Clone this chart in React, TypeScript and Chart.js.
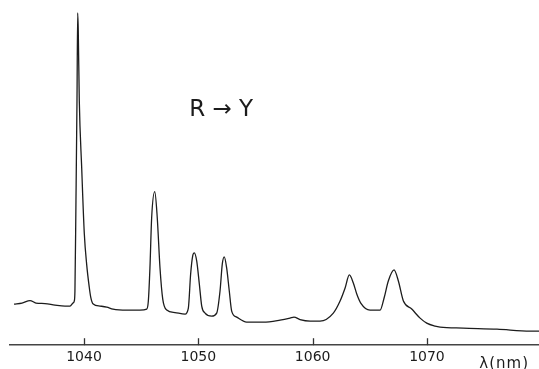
import React, { useEffect, useRef } from "react";
import { Chart, registerables } from "chart.js";

Chart.register(...registerables);

// Wavelength (nm) of each traced point of the spectrum
const wavelengths: number[] = [
  1033.88, 1034.58, 1035.28, 1035.8, 1036.59, 1037.46, 1038.34, 1038.78, 1039.04, 1039.15,
  1039.21, 1039.3, 1039.39, 1039.45, 1039.5, 1039.59, 1039.8, 1040.03, 1040.24, 1040.46,
  1040.59, 1040.81, 1041.4, 1041.99, 1042.54, 1043.74, 1044.9, 1045.49, 1045.63, 1045.77,
  1045.92, 1046.19, 1046.41, 1046.65, 1046.89, 1047.24, 1047.96, 1048.84, 1049.13, 1049.33,
  1049.51, 1049.65, 1049.86, 1050.09, 1050.3, 1050.59, 1051.17, 1051.61, 1051.9, 1052.1,
  1052.27, 1052.48, 1052.71, 1052.92, 1053.36, 1054.23, 1055.69, 1057.15, 1058.02, 1058.37,
  1058.9, 1059.78, 1060.65, 1061.81, 1062.4, 1062.84, 1063.21, 1063.56, 1063.86, 1064.21,
  1065.02, 1065.9, 1066.25, 1066.62, 1067.12, 1067.5, 1067.94, 1068.67, 1069.4, 1069.98,
  1070.71, 1071.15, 1073.16, 1076.13, 1079.02, 1079.81,
];

// Emission intensity (arbitrary units) at each wavelength
const intensities: number[] = [
  41, 42, 44.5, 42, 41.5, 40, 39, 39, 42, 44,
  54, 144, 244, 331, 314, 244, 177, 111, 80, 58,
  48, 41, 39, 38, 36, 35, 35, 36, 44, 77,
  127, 153, 127, 77, 46, 35, 32.5, 31, 37, 71,
  89, 92, 84, 61, 39, 32, 29, 32, 54, 81,
  88, 77, 54, 34, 28, 23, 23, 25, 27, 28,
  25.5, 24, 24, 32, 44, 57, 70, 62, 51, 42,
  35, 35, 47, 64, 75, 64, 44, 36, 27, 22,
  19, 18, 17, 16, 14, 14,
];

const tickValues: number[] = [1040, 1050, 1060, 1070];
const xMin = 1033.53;
const xMax = 1079.8;
const yMax = 336;

const annotationText = "R \u2192 Y";
const annotationWavelength = 1052.0;
const annotationIntensity = 234;
const axisUnitText = "\u03bb(nm)";

const INK = "#1c1c1c";
const FONT = '"DejaVu Sans", sans-serif';

const overlayPlugin = {
  id: "overlay",
  afterDraw(chart: any) {
    const { ctx, chartArea } = chart;
    const x = chart.scales.x;
    const y = chart.scales.y;
    ctx.save();
    ctx.strokeStyle = "#333";
    ctx.lineWidth = 1.3;
    tickValues.forEach((v) => {
      const px = Math.round(x.getPixelForValue(v)) + 0.5;
      ctx.beginPath();
      ctx.moveTo(px, chartArea.bottom);
      ctx.lineTo(px, chartArea.bottom - 7);
      ctx.stroke();
    });
    ctx.fillStyle = INK;
    ctx.font = `23px ${FONT}`;
    ctx.textAlign = "center";
    ctx.textBaseline = "middle";
    ctx.fillText(
      annotationText,
      x.getPixelForValue(annotationWavelength),
      y.getPixelForValue(annotationIntensity)
    );
    ctx.font = `15px ${FONT}`;
    ctx.textAlign = "right";
    ctx.textBaseline = "alphabetic";
    (ctx as any).letterSpacing = "1px";
    ctx.fillText(axisUnitText, chartArea.right - 10, chart.height - 1);
    ctx.restore();
  },
};

export default function App() {
  const canvasRef = useRef<HTMLCanvasElement | null>(null);

  useEffect(() => {
    if (!canvasRef.current) return;
    const points = wavelengths.map((w, i) => ({ x: w, y: intensities[i] }));
    const chart = new Chart(canvasRef.current, {
      type: "line",
      data: {
        datasets: [
          {
            data: points,
            borderColor: INK,
            borderWidth: 1.3,
            pointRadius: 0,
            cubicInterpolationMode: "monotone",
            fill: false,
          },
        ],
      },
      options: {
        animation: false,
        responsive: false,
        maintainAspectRatio: false,
        layout: { padding: { left: 10, right: 0, top: 8, bottom: -1 } },
        plugins: {
          legend: { display: false },
          tooltip: { enabled: false },
          title: { display: false },
        },
        scales: {
          x: {
            type: "linear",
            min: xMin,
            max: xMax,
            afterBuildTicks: (axis: any) => {
              axis.ticks = tickValues.map((v) => ({ value: v }));
            },
            grid: { display: true, drawOnChartArea: false, drawTicks: false },
            border: { display: true, color: "#444", width: 1.5 },
            ticks: {
              autoSkip: false,
              maxRotation: 0,
              padding: 4,
              color: INK,
              font: { family: FONT, size: 14 },
              callback: (v: any) => String(v),
            },
          },
          y: {
            display: false,
            min: 0,
            max: yMax,
          },
        },
      },
      plugins: [overlayPlugin],
    });
    return () => chart.destroy();
  }, []);

  return (
    <div style={{ position: "fixed", left: 0, top: 0, width: 539, height: 369, background: "#fff" }}>
      <canvas ref={canvasRef} width={539} height={369} style={{ width: 539, height: 369, display: "block" }} />
    </div>
  );
}
